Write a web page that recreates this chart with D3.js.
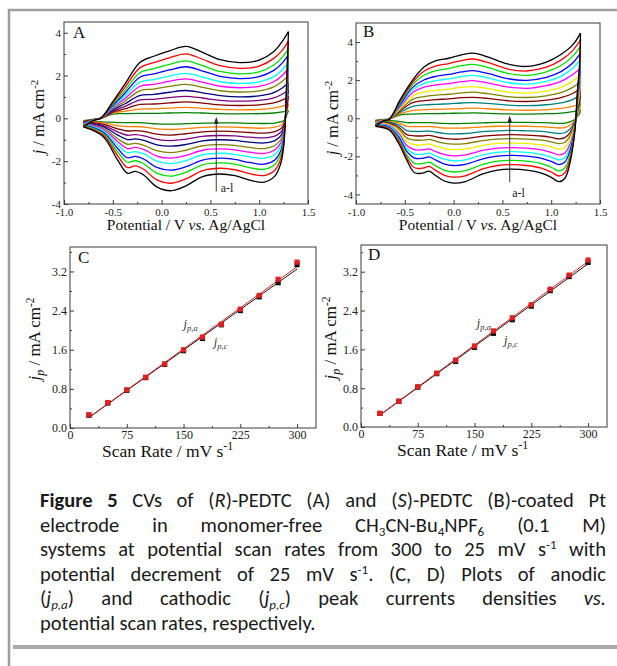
<!DOCTYPE html>
<html>
<head>
<meta charset="utf-8">
<script src="https://cdn.jsdelivr.net/npm/d3@7"></script>
<style>
  html, body { margin: 0; padding: 0; background: #fff; }
  #chart { width: 617px; height: 666px; }
</style>
</head>
<body>
<div id="chart"></div>
<script>
// ---------------- data ----------------
const scanRates = [25, 50, 75, 100, 125, 150, 175, 200, 225, 250, 275, 300]; // mV/s, curves a..l

// (R)-PEDTC film: forward (anodic) and reverse (cathodic) sweeps
const potA_fwd = [-0.8, -0.7, -0.62, -0.5, -0.38, -0.22, -0.08, 0.08, 0.25, 0.42, 0.6, 0.8, 1.0, 1.15, 1.24, 1.3];
const curA_fwd = [
  [-0.11, -0.05, 0.00, 0.20, 0.22, 0.23, 0.23, 0.25, 0.27, 0.25, 0.22, 0.21, 0.22, 0.25, 0.30, 0.36],
  [-0.13, -0.05, 0.00, 0.25, 0.33, 0.43, 0.44, 0.48, 0.51, 0.47, 0.42, 0.40, 0.42, 0.48, 0.57, 0.68],
  [-0.15, -0.06, 0.00, 0.29, 0.44, 0.65, 0.67, 0.72, 0.77, 0.71, 0.63, 0.60, 0.63, 0.72, 0.86, 1.02],
  [-0.18, -0.06, 0.01, 0.34, 0.55, 0.86, 0.89, 0.97, 1.03, 0.95, 0.84, 0.80, 0.84, 0.96, 1.14, 1.34],
  [-0.20, -0.07, 0.01, 0.39, 0.67, 1.07, 1.12, 1.22, 1.30, 1.19, 1.06, 1.00, 1.05, 1.20, 1.43, 1.66],
  [-0.23, -0.07, 0.01, 0.45, 0.79, 1.30, 1.37, 1.49, 1.59, 1.45, 1.29, 1.23, 1.28, 1.47, 1.74, 2.02],
  [-0.26, -0.08, 0.01, 0.50, 0.91, 1.50, 1.59, 1.73, 1.84, 1.69, 1.50, 1.43, 1.49, 1.71, 2.01, 2.34],
  [-0.28, -0.08, 0.01, 0.54, 1.02, 1.70, 1.81, 1.97, 2.10, 1.93, 1.71, 1.63, 1.70, 1.95, 2.28, 2.64],
  [-0.31, -0.09, 0.02, 0.60, 1.15, 1.93, 2.08, 2.26, 2.41, 2.21, 1.96, 1.86, 1.95, 2.24, 2.60, 2.98],
  [-0.34, -0.09, 0.02, 0.65, 1.27, 2.14, 2.32, 2.52, 2.68, 2.46, 2.19, 2.08, 2.17, 2.49, 2.87, 3.26],
  [-0.37, -0.10, 0.02, 0.72, 1.42, 2.37, 2.60, 2.83, 3.01, 2.76, 2.46, 2.33, 2.44, 2.80, 3.20, 3.62],
  [-0.40, -0.10, 0.02, 0.78, 1.57, 2.62, 2.90, 3.15, 3.36, 3.08, 2.74, 2.60, 2.72, 3.12, 3.62, 4.05]
];
const potA_rev = [1.285, 1.27, 1.25, 1.22, 1.16, 1.05, 0.9, 0.75, 0.6, 0.42, 0.25, 0.1, -0.05, -0.18, -0.27, -0.35, -0.45, -0.6, -0.8];
const curA_rev = [
  [0.18, 0.02, -0.11, -0.17, -0.22, -0.24, -0.23, -0.21, -0.21, -0.22, -0.25, -0.27, -0.26, -0.21, -0.20, -0.20, -0.20, -0.16, -0.11],
  [0.34, 0.03, -0.21, -0.32, -0.41, -0.46, -0.44, -0.41, -0.40, -0.42, -0.48, -0.52, -0.49, -0.41, -0.38, -0.39, -0.34, -0.21, -0.13],
  [0.51, 0.05, -0.31, -0.49, -0.62, -0.69, -0.66, -0.62, -0.60, -0.63, -0.72, -0.78, -0.74, -0.61, -0.57, -0.59, -0.49, -0.27, -0.15],
  [0.68, 0.06, -0.41, -0.65, -0.83, -0.91, -0.88, -0.82, -0.80, -0.84, -0.97, -1.04, -0.98, -0.82, -0.76, -0.79, -0.63, -0.33, -0.18],
  [0.85, 0.08, -0.52, -0.82, -1.04, -1.15, -1.11, -1.03, -1.00, -1.05, -1.22, -1.30, -1.24, -1.03, -0.96, -0.99, -0.78, -0.39, -0.20],
  [1.04, 0.09, -0.64, -1.00, -1.27, -1.41, -1.36, -1.26, -1.23, -1.28, -1.49, -1.60, -1.51, -1.26, -1.17, -1.21, -0.95, -0.45, -0.23],
  [1.21, 0.11, -0.74, -1.16, -1.48, -1.64, -1.58, -1.47, -1.43, -1.49, -1.73, -1.86, -1.76, -1.46, -1.36, -1.41, -1.09, -0.51, -0.26],
  [1.38, 0.13, -0.84, -1.33, -1.69, -1.86, -1.80, -1.68, -1.63, -1.70, -1.97, -2.11, -2.00, -1.66, -1.55, -1.60, -1.24, -0.57, -0.28],
  [1.58, 0.14, -0.97, -1.52, -1.94, -2.14, -2.06, -1.92, -1.86, -1.95, -2.26, -2.42, -2.29, -1.91, -1.78, -1.84, -1.41, -0.64, -0.31],
  [1.76, 0.16, -1.08, -1.69, -2.16, -2.38, -2.30, -2.14, -2.08, -2.17, -2.52, -2.70, -2.56, -2.13, -1.98, -2.05, -1.57, -0.70, -0.34],
  [1.97, 0.18, -1.21, -1.90, -2.42, -2.67, -2.58, -2.40, -2.33, -2.44, -2.83, -3.03, -2.87, -2.39, -2.22, -2.30, -1.75, -0.77, -0.37],
  [2.20, 0.20, -1.35, -2.12, -2.70, -2.98, -2.88, -2.68, -2.60, -2.72, -3.15, -3.38, -3.20, -2.66, -2.48, -2.56, -1.95, -0.85, -0.40]
];

// (S)-PEDTC film
const potB_fwd = [-0.8, -0.72, -0.66, -0.55, -0.42, -0.3, -0.18, -0.05, 0.08, 0.2, 0.35, 0.55, 0.75, 0.95, 1.1, 1.22, 1.3];
const curB_fwd = [
  [-0.11, -0.06, -0.05, 0.17, 0.22, 0.24, 0.24, 0.26, 0.27, 0.28, 0.26, 0.23, 0.22, 0.24, 0.27, 0.35, 0.43],
  [-0.13, -0.07, -0.05, 0.23, 0.41, 0.45, 0.47, 0.49, 0.51, 0.53, 0.50, 0.44, 0.42, 0.45, 0.52, 0.62, 0.80],
  [-0.16, -0.07, -0.05, 0.30, 0.63, 0.70, 0.73, 0.76, 0.80, 0.82, 0.78, 0.69, 0.66, 0.71, 0.81, 0.98, 1.24],
  [-0.19, -0.08, -0.05, 0.37, 0.82, 0.93, 0.98, 1.02, 1.08, 1.10, 1.04, 0.92, 0.88, 0.95, 1.08, 1.30, 1.58],
  [-0.22, -0.09, -0.05, 0.44, 0.99, 1.14, 1.21, 1.26, 1.33, 1.37, 1.29, 1.14, 1.09, 1.18, 1.34, 1.62, 1.93],
  [-0.24, -0.10, -0.05, 0.51, 1.17, 1.38, 1.46, 1.53, 1.62, 1.66, 1.56, 1.38, 1.32, 1.43, 1.62, 1.95, 2.28],
  [-0.28, -0.11, -0.05, 0.59, 1.35, 1.63, 1.75, 1.82, 1.92, 1.98, 1.86, 1.65, 1.57, 1.71, 1.94, 2.30, 2.63],
  [-0.30, -0.12, -0.05, 0.66, 1.49, 1.83, 1.98, 2.07, 2.19, 2.25, 2.12, 1.87, 1.79, 1.94, 2.20, 2.62, 3.07],
  [-0.33, -0.12, -0.05, 0.72, 1.62, 2.02, 2.20, 2.30, 2.43, 2.50, 2.35, 2.08, 1.99, 2.15, 2.45, 2.90, 3.42],
  [-0.36, -0.13, -0.05, 0.80, 1.77, 2.27, 2.50, 2.61, 2.76, 2.83, 2.67, 2.36, 2.25, 2.44, 2.77, 3.25, 3.77],
  [-0.39, -0.14, -0.05, 0.87, 1.89, 2.48, 2.75, 2.87, 3.03, 3.11, 2.93, 2.59, 2.48, 2.68, 3.05, 3.55, 4.12],
  [-0.42, -0.15, -0.05, 0.95, 2.00, 2.70, 3.02, 3.15, 3.33, 3.42, 3.22, 2.85, 2.72, 2.95, 3.35, 3.85, 4.47]
];
const potB_rev = [1.29, 1.27, 1.24, 1.19, 1.14, 1.08, 1.0, 0.9, 0.75, 0.6, 0.45, 0.3, 0.12, 0.0, -0.1, -0.2, -0.25, -0.32, -0.4, -0.48, -0.56, -0.66, -0.8];
const curB_rev = [
  [0.23, 0.12, -0.06, -0.19, -0.26, -0.27, -0.25, -0.23, -0.22, -0.22, -0.22, -0.24, -0.27, -0.28, -0.27, -0.24, -0.23, -0.23, -0.23, -0.23, -0.16, -0.12, -0.11],
  [0.43, 0.23, -0.12, -0.37, -0.49, -0.51, -0.48, -0.44, -0.42, -0.41, -0.42, -0.45, -0.51, -0.52, -0.51, -0.45, -0.43, -0.44, -0.44, -0.42, -0.25, -0.16, -0.13],
  [0.67, 0.36, -0.19, -0.58, -0.76, -0.80, -0.75, -0.69, -0.66, -0.64, -0.66, -0.70, -0.80, -0.82, -0.79, -0.71, -0.67, -0.69, -0.69, -0.65, -0.36, -0.21, -0.16],
  [0.90, 0.48, -0.26, -0.78, -1.02, -1.08, -1.00, -0.93, -0.88, -0.86, -0.88, -0.94, -1.07, -1.10, -1.06, -0.95, -0.90, -0.93, -0.92, -0.86, -0.47, -0.25, -0.19],
  [1.12, 0.60, -0.32, -0.96, -1.26, -1.33, -1.24, -1.15, -1.09, -1.07, -1.09, -1.17, -1.33, -1.36, -1.31, -1.18, -1.11, -1.15, -1.14, -1.04, -0.57, -0.30, -0.22],
  [1.36, 0.73, -0.39, -1.16, -1.53, -1.62, -1.50, -1.40, -1.32, -1.30, -1.32, -1.42, -1.61, -1.65, -1.59, -1.43, -1.35, -1.40, -1.39, -1.23, -0.68, -0.34, -0.24],
  [1.62, 0.87, -0.46, -1.39, -1.82, -1.92, -1.79, -1.66, -1.57, -1.54, -1.57, -1.69, -1.92, -1.97, -1.90, -1.71, -1.61, -1.66, -1.65, -1.43, -0.80, -0.39, -0.28],
  [1.84, 0.99, -0.53, -1.58, -2.07, -2.19, -2.04, -1.89, -1.79, -1.75, -1.79, -1.92, -2.18, -2.23, -2.15, -1.94, -1.83, -1.89, -1.88, -1.59, -0.90, -0.43, -0.30],
  [2.04, 1.10, -0.58, -1.75, -2.30, -2.43, -2.26, -2.10, -1.99, -1.95, -1.99, -2.13, -2.42, -2.48, -2.39, -2.15, -2.03, -2.10, -2.09, -1.74, -1.00, -0.47, -0.33],
  [2.32, 1.24, -0.66, -1.99, -2.61, -2.76, -2.57, -2.38, -2.25, -2.21, -2.25, -2.42, -2.75, -2.82, -2.72, -2.44, -2.30, -2.38, -2.37, -1.92, -1.13, -0.53, -0.36],
  [2.55, 1.37, -0.73, -2.18, -2.87, -3.03, -2.82, -2.62, -2.48, -2.43, -2.48, -2.66, -3.02, -3.09, -2.98, -2.68, -2.53, -2.62, -2.60, -2.06, -1.23, -0.57, -0.39],
  [2.80, 1.50, -0.80, -2.40, -3.15, -3.33, -3.10, -2.88, -2.72, -2.67, -2.72, -2.92, -3.32, -3.40, -3.28, -2.95, -2.78, -2.88, -2.86, -2.20, -1.35, -0.62, -0.42]
];

// peak current densities (mA cm^-2) vs scan rate
const peakA_anodic   = [0.27, 0.52, 0.78, 1.04, 1.31, 1.60, 1.86, 2.12, 2.43, 2.71, 3.04, 3.39];
const peakA_cathodic = [0.26, 0.51, 0.77, 1.03, 1.30, 1.58, 1.83, 2.11, 2.40, 2.68, 2.97, 3.34];
const peakB_anodic   = [0.28, 0.53, 0.83, 1.11, 1.38, 1.67, 1.98, 2.25, 2.52, 2.84, 3.13, 3.44];
const peakB_cathodic = [0.28, 0.53, 0.82, 1.10, 1.35, 1.64, 1.93, 2.21, 2.49, 2.81, 3.10, 3.39];

// axis ticks
const potTicks  = [-1.0, -0.5, 0.0, 0.5, 1.0, 1.5];
const potMinor  = [-0.75, -0.25, 0.25, 0.75, 1.25];
const curTicks  = [-4, -2, 0, 2, 4];
const curMinor  = [-3, -1, 1, 3];
const rateTicks = [0, 75, 150, 225, 300];
const rateMinor = [37.5, 112.5, 187.5, 262.5];
const jpTicks   = [0.0, 0.8, 1.6, 2.4, 3.2];
const jpMinor   = [0.4, 1.2, 2.0, 2.8, 3.6];

// line colours, innermost curve (a) to outermost (l)
const paletteA = ['#008000', '#ff8000', '#800000', '#800080', '#000080', '#808000',
                  '#ff00ff', '#00ffff', '#0000ff', '#00e000', '#ff0000', '#000000'];
const paletteB = ['#008000', '#ff8000', '#008080', '#800000', '#808000', '#f0f000',
                  '#ff00ff', '#00ffff', '#0000ff', '#00e000', '#ff0000', '#000000'];

// ---------------- drawing ----------------
const serif = "'Liberation Serif', 'Times New Roman', serif";
const capFont = "Carlito, Lato, 'Open Sans', sans-serif";
const svg = d3.select('#chart').append('svg').attr('width', 617).attr('height', 666);

// figure frame
svg.append('path').attr('d', 'M9,666V10H617').attr('fill', 'none')
  .attr('stroke', '#9e9e9e').attr('stroke-width', 2.5);
svg.append('rect').attr('x', 13).attr('y', 645).attr('width', 604).attr('height', 4).attr('fill', '#a9a9a9');

function drawAxes(g, x, y, o) {
  const yb = y.range()[0], xl = x.range()[0];
  const bottom = g.append('g').attr('transform', `translate(0,${yb})`);
  bottom.append('g').call(d3.axisBottom(x).tickValues(o.xMinor).tickFormat(() => '').tickSizeInner(-2).tickSizeOuter(0));
  bottom.append('g').call(d3.axisBottom(x).tickValues(o.xTicks).tickFormat(o.xFmt).tickSizeInner(-4).tickSizeOuter(0).tickPadding(o.padX));
  const left = g.append('g').attr('transform', `translate(${xl},0)`);
  left.append('g').call(d3.axisLeft(y).tickValues(o.yMinor).tickFormat(() => '').tickSizeInner(-2).tickSizeOuter(0));
  left.append('g').call(d3.axisLeft(y).tickValues(o.yTicks).tickFormat(o.yFmt).tickSizeInner(-4).tickSizeOuter(0).tickPadding(3));
  [bottom, left].forEach(a => {
    a.selectAll('.domain').remove();
    a.selectAll('line').attr('stroke', '#3a3a3a');
    a.selectAll('g').attr('font-family', serif).attr('font-size', o.tickSize);
    a.selectAll('text').attr('fill', '#222');
  });
  g.append('rect').attr('x', xl).attr('y', y.range()[1])
    .attr('width', x.range()[1] - xl).attr('height', yb - y.range()[1])
    .attr('fill', 'none').attr('stroke', '#3a3a3a').attr('stroke-width', 1);
}

function cvPanel(cfg) {
  const g = svg.append('g');
  const x = d3.scaleLinear().domain([-1, 1.5]).range([cfg.left, cfg.right]);
  const y = d3.scaleLinear().domain(cfg.yDomain).range([cfg.bottom, cfg.top]);
  const line = d3.line().x(d => x(d[0])).y(d => y(d[1])).curve(d3.curveCatmullRom.alpha(0.5));
  scanRates.forEach((rate, i) => {
    const fwd = cfg.potFwd.map((v, k) => [v, cfg.curFwd[i][k]]);
    const rev = [fwd[fwd.length - 1]].concat(cfg.potRev.map((v, k) => [v, cfg.curRev[i][k]]));
    [fwd, rev].forEach(seg => g.append('path').attr('d', line(seg)).attr('fill', 'none')
      .attr('stroke', cfg.palette[i]).attr('stroke-width', 1.3).attr('stroke-linejoin', 'round'));
  });
  drawAxes(g, x, y, {
    xTicks: potTicks, xMinor: potMinor, xFmt: d => d.toFixed(1), padX: 4,
    yTicks: curTicks, yMinor: curMinor, yFmt: d => String(d), tickSize: 11
  });
  // scan direction arrow a -> l
  const ax = x(cfg.arrow.v), ay0 = y(cfg.arrow.from), ay1 = y(cfg.arrow.to);
  g.append('line').attr('x1', ax).attr('x2', ax).attr('y1', ay0).attr('y2', ay1 + 5)
    .attr('stroke', '#222').attr('stroke-width', 0.9);
  g.append('path').attr('d', `M${ax},${ay1}L${ax - 2.2},${ay1 + 7}L${ax + 2.2},${ay1 + 7}Z`).attr('fill', '#222');
  g.append('text').attr('x', x(cfg.arrow.labelV)).attr('y', y(cfg.arrow.labelJ))
    .attr('font-family', serif).attr('font-size', 12).attr('fill', '#222').text('a-l');
  // panel letter
  g.append('text').attr('x', cfg.letterPos[0]).attr('y', cfg.letterPos[1])
    .attr('font-family', serif).attr('font-size', 17).attr('fill', '#111').text(cfg.letter);
  // axis titles
  const xt = g.append('text').attr('x', (cfg.left + cfg.right) / 2).attr('y', 230)
    .attr('text-anchor', 'middle').attr('font-family', serif).attr('font-size', 15.5).attr('fill', '#111');
  xt.append('tspan').text('Potential / V ');
  xt.append('tspan').attr('font-style', 'italic').text('vs.');
  xt.append('tspan').text(' Ag/AgCl');
  const yt = g.append('text').attr('transform', `translate(${cfg.yTitle[0]},${cfg.yTitle[1]}) rotate(-90)`)
    .attr('text-anchor', 'middle').attr('font-family', serif).attr('font-size', 16.5).attr('fill', '#111');
  yt.append('tspan').attr('font-style', 'italic').text('j');
  yt.append('tspan').text(' / mA cm');
  yt.append('tspan').attr('dy', -6).attr('font-size', 11).text('-2');
}

function fit(xs, ys) {
  const mx = d3.mean(xs), my = d3.mean(ys);
  const sxy = d3.sum(xs, (v, i) => (v - mx) * (ys[i] - my));
  const sxx = d3.sum(xs, v => (v - mx) * (v - mx));
  const b = sxy / sxx;
  return { b, a: my - b * mx };
}

function peakPanel(cfg) {
  const g = svg.append('g');
  const x = d3.scaleLinear().domain([0, 325]).range([cfg.left, cfg.right]);
  const y = d3.scaleLinear().domain(cfg.yDomain).range([cfg.bottom, cfg.top]);
  drawAxes(g, x, y, {
    xTicks: rateTicks, xMinor: rateMinor, xFmt: d => String(d), padX: 2,
    yTicks: jpTicks, yMinor: jpMinor, yFmt: d => d.toFixed(1), tickSize: 12
  });
  const series = [
    { v: cfg.cathodic, color: '#111111' },
    { v: cfg.anodic, color: '#e41f1f' }
  ];
  series.forEach(s => {
    const f = fit(scanRates, s.v);
    const x0 = scanRates[0], x1 = scanRates[scanRates.length - 1];
    g.append('line').attr('x1', x(x0)).attr('y1', y(f.a + f.b * x0))
      .attr('x2', x(x1)).attr('y2', y(f.a + f.b * x1))
      .attr('stroke', s.color).attr('stroke-width', 1);
  });
  series.forEach(s => {
    g.append('g').selectAll('rect').data(scanRates).join('rect')
      .attr('x', d => x(d) - 2.6).attr('y', (d, i) => y(s.v[i]) - 2.6)
      .attr('width', 5.2).attr('height', 5.2).attr('fill', s.color);
  });
  // series labels
  [['a', cfg.labA], ['c', cfg.labC]].forEach(([k, p]) => {
    const t = g.append('text').attr('x', x(p[0])).attr('y', y(p[1]))
      .attr('font-family', serif).attr('font-size', 12.5).attr('font-style', 'italic').attr('fill', '#333');
    t.append('tspan').text('j');
    t.append('tspan').attr('dy', 3).attr('font-size', 8.5).text('p,' + k);
  });
  g.append('text').attr('x', cfg.letterPos[0]).attr('y', cfg.letterPos[1])
    .attr('font-family', serif).attr('font-size', 17).attr('fill', '#111').text(cfg.letter);
  const xt = g.append('text').attr('x', cfg.xTitle[0]).attr('y', cfg.xTitle[1])
    .attr('font-family', serif).attr('font-size', 17.5).attr('fill', '#111');
  xt.append('tspan').text('Scan Rate / mV s');
  xt.append('tspan').attr('dy', -7).attr('font-size', 12).text('-1');
  const yt = g.append('text').attr('transform', `translate(${cfg.yTitle[0]},${cfg.yTitle[1]}) rotate(-90)`)
    .attr('text-anchor', 'middle').attr('font-family', serif).attr('font-size', 17).attr('fill', '#111');
  yt.append('tspan').attr('font-style', 'italic').text('j');
  yt.append('tspan').attr('dy', 4).attr('font-size', 12).attr('font-style', 'italic').text('p');
  yt.append('tspan').attr('dy', -4).text(' / mA cm');
  yt.append('tspan').attr('dy', -6).attr('font-size', 11.5).text('-2');
}

cvPanel({
  left: 64, right: 308, top: 22, bottom: 204, yDomain: [-4, 4.5],
  potFwd: potA_fwd, curFwd: curA_fwd, potRev: potA_rev, curRev: curA_rev, palette: paletteA,
  arrow: { v: 0.56, from: -3.42, to: 0.08, labelV: 0.605, labelJ: -3.44 },
  letter: 'A', letterPos: [73, 38], yTitle: [44, 117]
});
cvPanel({
  left: 356, right: 600, top: 23, bottom: 204, yDomain: [-4.5, 5],
  potFwd: potB_fwd, curFwd: curB_fwd, potRev: potB_rev, curRev: curB_rev, palette: paletteB,
  arrow: { v: 0.575, from: -3.35, to: 0.15, labelV: 0.60, labelJ: -4.12 },
  letter: 'B', letterPos: [363, 37], yTitle: [338, 118]
});
peakPanel({
  left: 70, right: 316, top: 247, bottom: 428, yDomain: [0, 3.7],
  anodic: peakA_anodic, cathodic: peakA_cathodic,
  labA: [150, 2.05], labC: [190, 1.67],
  letter: 'C', letterPos: [78, 263], xTitle: [102, 457], yTitle: [40, 339]
});
peakPanel({
  left: 361, right: 607, top: 245, bottom: 427, yDomain: [0, 3.75],
  anodic: peakB_anodic, cathodic: peakB_cathodic,
  labA: [153, 2.07], labC: [189, 1.72],
  letter: 'D', letterPos: [368, 260], xTitle: [397, 456], yTitle: [336, 338]
});

// ---------------- caption (justified lines) ----------------
const captionLines = [
  [[['Figure', 'b']], [['5', 'b']], [['CVs']], [['of']], [['('], ['R', 'i'], [')-PEDTC']], [['(A)']], [['and']],
   [['('], ['S', 'i'], [')-PEDTC']], [['(B)-coated']], [['Pt']]],
  [[['electrode']], [['in']], [['monomer-free']],
   [['CH'], ['3', 'sub'], ['CN-Bu'], ['4', 'sub'], ['NPF'], ['6', 'sub']], [['(0.1']], [['M)']]],
  [[['systems']], [['at']], [['potential']], [['scan']], [['rates']], [['from']], [['300']], [['to']], [['25']],
   [['mV']], [['s'], ['-1', 'sup']], [['with']]],
  [[['potential']], [['decrement']], [['of']], [['25']], [['mV']], [['s'], ['-1', 'sup'], ['.']], [['(C,']], [['D)']],
   [['Plots']], [['of']], [['anodic']]],
  [[['('], ['j', 'i'], ['p,a', 'isub'], [')']], [['and']], [['cathodic']], [['('], ['j', 'i'], ['p,c', 'isub'], [')']],
   [['peak']], [['currents']], [['densities']], [['vs.', 'i']]],
  [[['potential']], [['scan']], [['rates,']], [['respectively.']]]
];
const capLeft = 40, capWidth = 566, capSize = 20.5, capTop = 507, capStep = 24.5;
const capG = svg.append('g').attr('font-family', capFont).attr('font-size', capSize).attr('fill', '#1a1a1a');

function wordText(segs, yb) {
  const t = capG.append('text').attr('y', yb);
  let shift = 0;
  segs.forEach(([s, k = '']) => {
    const ts = t.append('tspan').text(s);
    const target = k.includes('sub') ? 4 : (k === 'sup' ? -7 : 0);
    if (target !== shift) ts.attr('dy', target - shift);
    shift = target;
    if (target !== 0) ts.attr('font-size', 13);
    if (k === 'b') ts.attr('font-weight', 'bold');
    if (k === 'i' || k === 'isub') ts.attr('font-style', 'italic');
  });
  return t;
}

const probe1 = capG.append('text').text('a a'), probe2 = capG.append('text').text('aa');
const spaceW = probe1.node().getComputedTextLength() - probe2.node().getComputedTextLength();
probe1.remove(); probe2.remove();

captionLines.forEach((words, li) => {
  const yb = capTop + li * capStep;
  const nodes = words.map(w => wordText(w, yb));
  const widths = nodes.map(n => n.node().getComputedTextLength());
  const last = li === captionLines.length - 1;
  const gap = last ? spaceW : Math.max(spaceW * 0.6, (capWidth - d3.sum(widths)) / (words.length - 1));
  let xPos = capLeft;
  nodes.forEach((n, k) => { n.attr('x', xPos); xPos += widths[k] + gap; });
});
</script>
</body>
</html>
